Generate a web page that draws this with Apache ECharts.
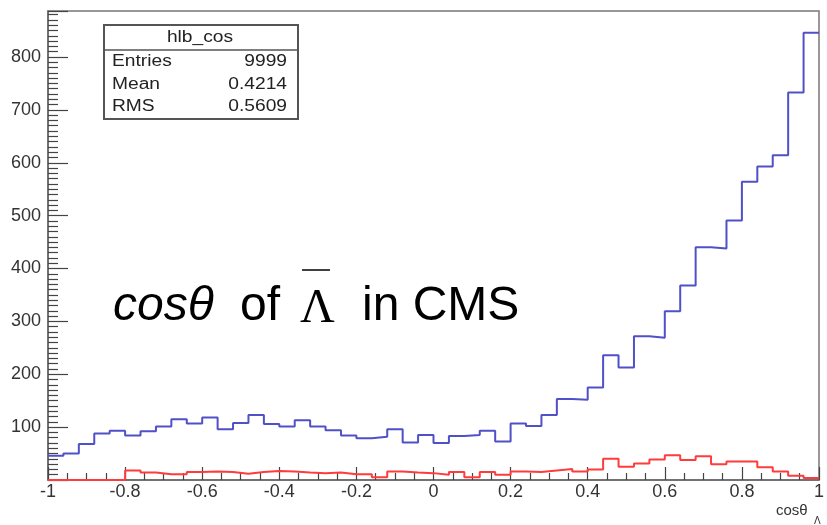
<!DOCTYPE html>
<html><head><meta charset="utf-8">
<script src="https://cdn.jsdelivr.net/npm/echarts@6/dist/echarts.min.js"></script>
<style>html,body{margin:0;padding:0;background:#fff}#c{width:827px;height:525px}</style>
</head><body><div id="c"></div><script>
// Histogram bin edges (50 bins from -1 to 1)
const binEdges = [-1,-0.96,-0.92,-0.88,-0.84,-0.8,-0.76,-0.72,-0.68,-0.64,-0.6,-0.56,-0.52,-0.48,-0.44,-0.4,-0.36,-0.32,-0.28,-0.24,-0.2,-0.16,-0.12,-0.08,-0.04,0,0.04,0.08,0.12,0.16,0.2,0.24,0.28,0.32,0.36,0.4,0.44,0.48,0.52,0.56,0.6,0.64,0.68,0.72,0.76,0.8,0.84,0.88,0.92,0.96,1];
// Blue histogram (hlb_cos)
const blueCounts = [46,50,68,88,93,84,92,101,115,107,118,96,108,123,106,101,113,101,94,84,79,82,96,71,85,70,83,85,93,73,107,102,123,153,152,175,236,213,272,269,319,368,440,438,491,564,593,614,733,846];
// Red histogram
const redCounts = [0,0,0,0,0,18,14,11,11,15,16,15,12,15,17,16,14,13,14,11,11,5,16,14,13,10,15,5,15,10,16,15,18,21,16,20,40,25,31,39,47,38,45,30,35,35,24,16,8,4];
// Stats box
const statsTitle = 'hlb_cos';
const statsNames = ['Entries','Mean','RMS'];
const statsValues = ['9999','0.4214','0.5609'];

function histPoints(counts){
  const pts = [];
  for (let i = 0; i < counts.length; i++) pts.push([binEdges[i], counts[i]]);
  pts.push([binEdges[binEdges.length-1], counts[counts.length-1]]);
  return pts;
}

const chart = echarts.init(document.getElementById('c'));
const font = 'Liberation Sans, Arial, sans-serif';
const gtexts = [];
// stats box
gtexts.push({type:'rect', shape:{x:104,y:25,width:194,height:94}, style:{fill:'#fff',stroke:'#555',lineWidth:2}, z:10});
gtexts.push({type:'line', shape:{x1:104,y1:50,x2:298,y2:50}, style:{stroke:'#555',lineWidth:1.5}, z:11});
gtexts.push({type:'text', x:200, y:38, scaleX:1.2, style:{text:statsTitle, font:'16px '+font, fill:'#222', align:'center', verticalAlign:'middle'}, z:11});
const rowY = [62,85,107];
for (let i=0;i<statsNames.length;i++){
  gtexts.push({type:'text', x:112, y:rowY[i], scaleX:1.2, style:{text:statsNames[i], font:'16px '+font, fill:'#222', align:'left', verticalAlign:'middle'}, z:11});
  gtexts.push({type:'text', x:287, y:rowY[i], scaleX:1.2, style:{text:statsValues[i], font:'16px '+font, fill:'#222', align:'right', verticalAlign:'middle'}, z:11});
}
// big annotation
gtexts.push({type:'text', x:113, y:307, style:{text:'cosθ', font:'italic 48px '+font, fill:'#000', verticalAlign:'middle'}, z:12});
gtexts.push({type:'text', x:240, y:307, style:{text:'of', font:'48px '+font, fill:'#000', verticalAlign:'middle'}, z:12});
gtexts.push({type:'text', x:300, y:309, style:{text:'Λ', font:'48px Liberation Serif, serif', fill:'#000', verticalAlign:'middle'}, z:12});
gtexts.push({type:'line', shape:{x1:302,y1:270,x2:330,y2:270}, style:{stroke:'#000',lineWidth:1.5}, z:12});
gtexts.push({type:'text', x:362, y:307, style:{text:'in CMS', font:'48px '+font, fill:'#000', verticalAlign:'middle'}, z:12});
// axis title
gtexts.push({type:'text', x:776, y:511, style:{text:'cosθ', font:'15px '+font, fill:'#333', verticalAlign:'middle'}, z:12});
gtexts.push({type:'text', x:814, y:521, style:{text:'Λ', font:'10px '+font, fill:'#333', verticalAlign:'middle'}, z:12});

chart.setOption({
  animation:false,
  backgroundColor:'#fff',
  grid:{left:48,right:4,top:11,bottom:45,show:true,borderColor:'#777',borderWidth:1.5,backgroundColor:'transparent'},
  xAxis:{
    type:'value', min:-1, max:1, interval:0.2,
    axisLine:{show:true,onZero:false,lineStyle:{color:'#666',width:1.5}},
    axisTick:{show:true,inside:true,length:13,lineStyle:{color:'#444',width:1.2}},
    minorTick:{show:true,splitNumber:4,length:7,lineStyle:{color:'#444',width:1.2}},
    splitLine:{show:false},
    axisLabel:{color:'#333',fontSize:18,fontFamily:font,margin:3,showMaxLabel:true,showMinLabel:true,
      formatter:v=>{const r=Math.round(v*10)/10; return String(r);}}
  },
  yAxis:{
    type:'value', min:0, max:887, interval:100,
    axisLine:{show:true,onZero:false,lineStyle:{color:'#666',width:1.5}},
    axisTick:{show:true,inside:true,length:20,lineStyle:{color:'#444',width:1.2}},
    minorTick:{show:true,splitNumber:10,length:10,lineStyle:{color:'#444',width:1.2}},
    splitLine:{show:false},
    axisLabel:{color:'#333',fontSize:18,fontFamily:font,margin:7,showMaxLabel:false,
      formatter:v=>(v>0 && v%100===0)?String(v):''}
  },
  series:[
    {type:'line', step:'end', data:histPoints(redCounts), symbol:'none', lineStyle:{color:'#ff3b3b',width:2}, z:3},
    {type:'line', step:'end', data:histPoints(blueCounts), symbol:'none', lineStyle:{color:'#5050c8',width:2}, z:4}
  ],
  graphic: gtexts
});
</script></body></html>
